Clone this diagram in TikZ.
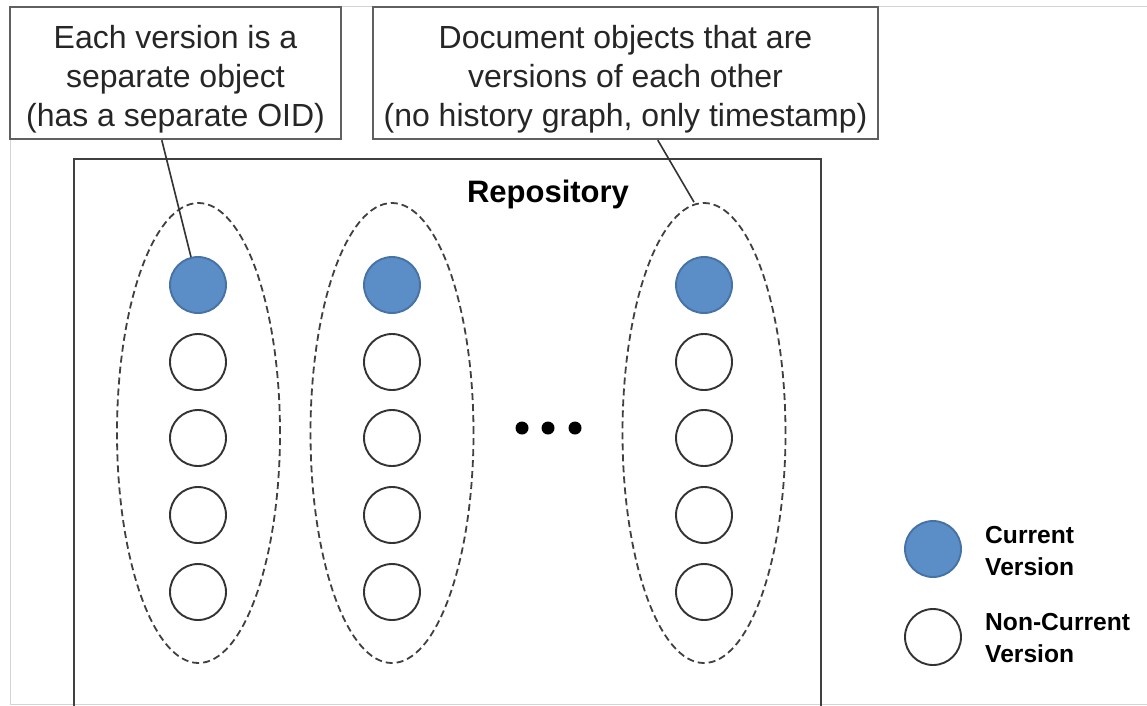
\documentclass[tikz,border=0pt]{standalone}
\usepackage{fontspec}
\setmainfont{Liberation Sans}
\usetikzlibrary{shapes.geometric}
\definecolor{curblue}{HTML}{5B8EC6}
\definecolor{curedge}{HTML}{4672A6}
\definecolor{boxgray}{HTML}{606060}
\definecolor{framegray}{HTML}{D4D4D4}
\begin{document}
\begin{tikzpicture}[x=1pt,y=-1pt,
  callout/.style={draw=boxgray, line width=2.4pt, fill=white, inner sep=0pt, minimum height=132pt},
  callouttext/.style={align=center, inner sep=0pt, font=\fontsize{32}{39}\selectfont, text=black!85},
  ver/.style={circle, draw=black!80, line width=1.9pt, fill=white, minimum size=56pt, inner sep=0pt},
  cur/.style={ver, fill=curblue, draw=curedge},
  group/.style={ellipse, draw=black!75, line width=1.8pt, dash pattern=on 7pt off 4pt, minimum width=163pt, minimum height=460pt, inner sep=0pt},
  conn/.style={draw=black!80, line width=1.6pt},
  dotmark/.style={circle, fill=black, minimum size=13pt, inner sep=0pt},
  legendtext/.style={align=left, anchor=west, inner sep=0pt, font=\fontsize{24.6}{32}\selectfont\bfseries}]
\useasboundingbox (0,0) rectangle (1147,705);
\fill[white] (0,0) rectangle (1147,705);
% faint outer frame
\draw[framegray, line width=1pt] (10,705) -- (10,6) -- (1147,6);
\draw[framegray, line width=1pt] (10,704) -- (1147,704);
% repository box (open at the bottom of the page)
\draw[black!75, line width=2.2pt] (74,706) -- (74,159) -- (821,159) -- (821,706);
\node[font=\fontsize{31}{37}\selectfont\bfseries, anchor=base, inner sep=0pt] (repo) at (548,202) {Repository};
% callout boxes
\node[callout, minimum width=331pt] (b1) at (175.5,73) {};
\node[callouttext] (t1) at (175.5,79.5) {Each version is a\\separate object\\(has a separate OID)};
\node[callout, minimum width=505pt] (b2) at (625.5,73) {};
\node[callouttext] (t2) at (625.5,79.5) {Document objects that are\\versions of each other\\(no history graph, only timestamp)};
% groups
\node[group] (e1) at (198.5,433) {};
\node[group] (e2) at (392,433) {};
\node[group] (e3) at (704,433) {};
% versions
\foreach \col/\x in {1/198, 2/392, 3/704} {
  \node[cur] (c\col1) at (\x,285) {};
  \node[ver] (c\col2) at (\x,362) {};
  \node[ver] (c\col3) at (\x,438) {};
  \node[ver] (c\col4) at (\x,515) {};
  \node[ver] (c\col5) at (\x,592) {};
}
% connectors
\draw[conn] ([xshift=153pt]b1.south west) -- (c11);
\draw[conn] ([xshift=286pt]b2.south west) -- ([xshift=-10pt]e3.north);
% ellipsis dots
\node[dotmark] (d1) at (522,428) {};
\node[dotmark] (d2) at (548,428) {};
\node[dotmark] (d3) at (575,428) {};
% legend
\node[cur] (lc) at (933,549) {};
\node[ver] (ln) at (933,637) {};
\node[legendtext] (lct) at (985,551) {Current\\Version};
\node[legendtext] (lnt) at (985,638.5) {Non-Current\\Version};
\end{tikzpicture}
\end{document}
